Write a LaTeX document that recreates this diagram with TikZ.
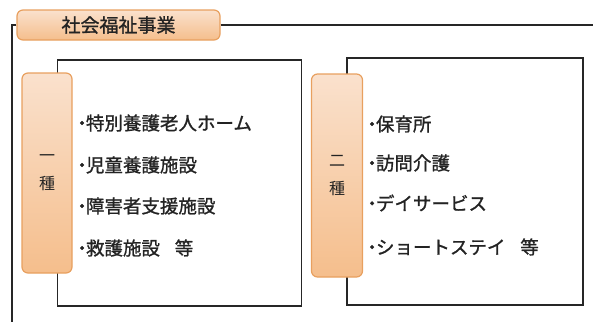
\documentclass[tikz,border=0pt]{standalone}
\usepackage{fontspec}
\setmainfont{Noto Sans CJK JP}
\newfontfamily\itemfont[FakeBold=1.2]{Noto Sans CJK JP}
\newcommand{\bul}{\makebox[0.42em][c]{・}}
\definecolor{peachtop}{RGB}{250,225,205}
\definecolor{peachbot}{RGB}{245,190,140}
\definecolor{peachedge}{RGB}{232,160,95}
\definecolor{txt}{RGB}{35,35,35}
\tikzset{
  tagbox/.style={draw=peachedge, line width=1.2pt, rounded corners=6pt,
    top color=peachtop, bottom color=peachbot, inner sep=0pt},
  frame/.style={draw=black!85, line width=1.8pt},
  item/.style={anchor=west, font=\itemfont\fontsize{18.5}{20}\selectfont, text=txt, inner sep=0pt},
}
\begin{document}
\begin{tikzpicture}[x=1pt,y=-1pt]
\useasboundingbox (0,0) rectangle (593,322);
% title and outer frame
\node[tagbox, minimum width=203pt, minimum height=30pt,
  font=\itemfont\fontsize{19}{20}\selectfont, text=txt] (title) at (118.5,25) {社会福祉事業};
\coordinate (fr) at (593,25);
\coordinate (fl) at (12,322);
\draw[frame] (title.east) -- (fr);
\draw[frame] (title.west) -| (fl);
% left group
\node[frame, minimum width=244pt, minimum height=246pt, inner sep=0pt] (boxA) at (179.5,183) {};
\node[tagbox, minimum width=50pt, minimum height=200pt, align=center,
  font=\fontsize{16}{28}\selectfont, text=txt] (tagA) at (47,173) {一\\種};
\node[item] (a1) at (78,123) {\bul 特別養護老人ホーム};
\node[item] (a2) at (78,165) {\bul 児童養護施設};
\node[item] (a3) at (78,206) {\bul 障害者支援施設};
\node[item] (a4) at (78,248) {\bul 救護施設\hspace{0.8em}等};
% right group
\node[frame, minimum width=236pt, minimum height=247pt, inner sep=0pt] (boxB) at (465,181.5) {};
\node[tagbox, minimum width=51pt, minimum height=203pt, align=center,
  font=\fontsize{16}{28}\selectfont, text=txt] (tagB) at (337,175.5) {二\\種};
\node[item] (b1) at (368,124) {\bul 保育所};
\node[item] (b2) at (368,163) {\bul 訪問介護};
\node[item] (b3) at (368,203) {\bul デイサービス};
\node[item] (b4) at (368,247) {\bul ショートステイ\hspace{0.8em}等};
\end{tikzpicture}
\end{document}
